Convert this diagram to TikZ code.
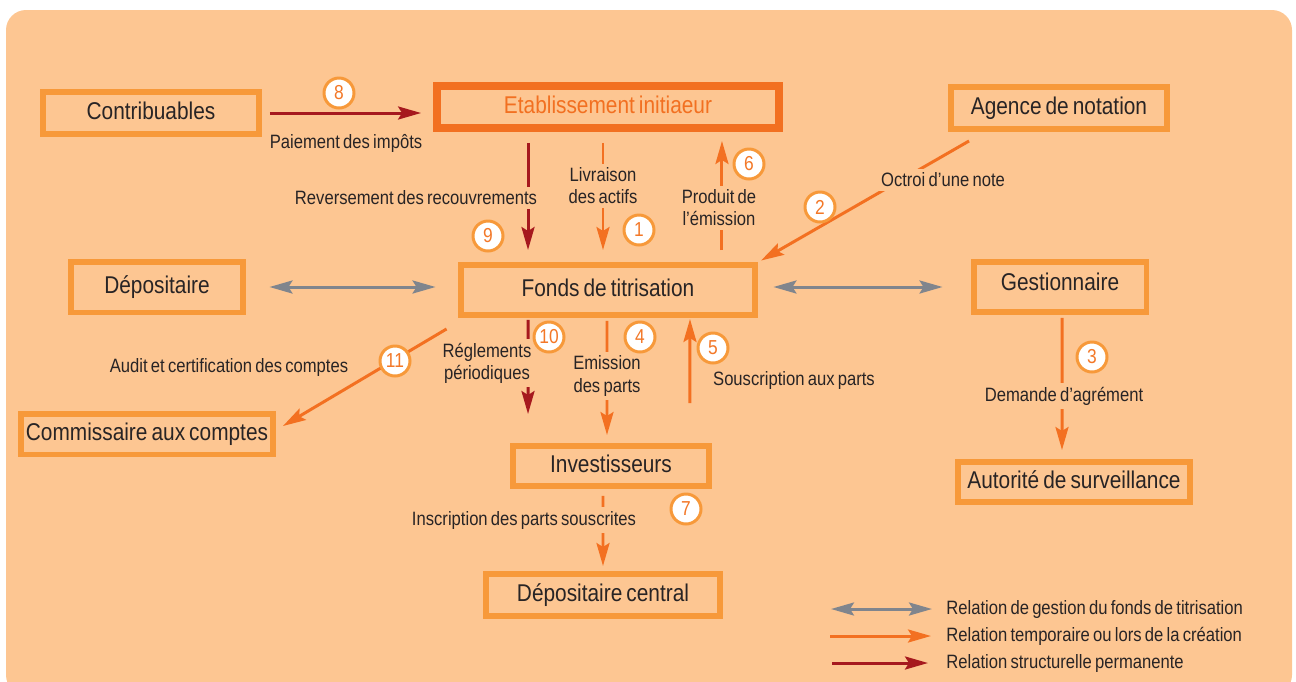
\documentclass[tikz,border=0pt]{standalone}
\usepackage{fontspec}
\setmainfont{Liberation Sans}[FakeStretch=0.86, WordSpace=0.7]
\usetikzlibrary{positioning, arrows.meta, calc}

\definecolor{bgor}{RGB}{253,198,146}
\definecolor{boxor}{RGB}{247,153,58}
\definecolor{etabor}{RGB}{242,112,33}
\definecolor{arrowor}{RGB}{243,112,33}
\definecolor{numor}{RGB}{243,120,40}
\definecolor{permred}{RGB}{166,25,30}
\definecolor{gestgrey}{RGB}{128,133,141}
\definecolor{txt}{RGB}{40,36,37}

\tikzset{
  entity/.style={draw=boxor, line width=3.4pt, text=txt, inner sep=0pt,
    font=\fontsize{13.8}{16}\selectfont, text height=10pt, text depth=3pt},
  labl/.style={text=txt, font=\fontsize{11}{12.6}\selectfont, align=center,
    fill=bgor, inner sep=0.08cm},
  legl/.style={text=txt, font=\fontsize{11}{12.6}\selectfont, anchor=west, inner sep=0pt},
  numc/.style={circle, draw=boxor, fill=white, line width=1.7pt, minimum size=0.6cm,
    inner sep=0pt, text=numor, font=\fontsize{11.5}{12}\selectfont},
  gestarrow/.style={draw=gestgrey, line width=1.7pt, <->},
  temparrow/.style={draw=arrowor, line width=1.7pt, ->},
  permarrow/.style={draw=permred, line width=1.7pt, ->}
}

\begin{document}
\begin{tikzpicture}[x=0.02cm, y=-0.02cm,
    >={Stealth[length=0.46cm, width=0.26cm, inset=0.08cm]}]

        \useasboundingbox (0,0) rectangle (1296,681);
        \fill[bgor, rounded corners=0.4cm] (6,10) rectangle (1292,695);

        % Nodes
        \node[entity, minimum width=4.32cm, minimum height=0.84cm] (contrib) at (151,113) {Contribuables};
        \node[entity, draw=etabor, line width=4.5pt, text=etabor, minimum width=6.84cm, minimum height=0.84cm] (etab) at (608,107) {Etablissement initiaeur};
        \node[entity, minimum width=4.32cm, minimum height=0.84cm] (agence) at (1059,108) {Agence de notation};
        \node[entity, minimum width=3.46cm, minimum height=1.02cm] (depos) at (157,287) {Dépositaire};
        \node[entity, minimum width=5.9cm, minimum height=1.0cm] (fonds) at (608,290) {Fonds de titrisation};
        \node[entity, minimum width=3.46cm, minimum height=1.0cm, text depth=6pt] (gest) at (1060,287) {Gestionnaire};
        \node[entity, minimum width=5.04cm, minimum height=0.82cm] (comm) at (147,434) {Commissaire aux comptes};
        \node[entity, minimum width=3.92cm, minimum height=0.8cm] (invest) at (611,466) {Investisseurs};
        \node[entity, minimum width=4.64cm, minimum height=0.8cm] (autorite) at (1074,482) {Autorité de surveillance};
        \node[entity, minimum width=4.68cm, minimum height=0.84cm] (depcentral) at (603,595) {Dépositaire central};

        % Edges
        \draw[permarrow, shorten <=0.16cm, shorten >=0.24cm] (contrib.east) -- (contrib.east -| etab.west);
        \draw[permarrow, shorten <=0.22cm, shorten >=0.24cm] ([xshift=-1.6cm]etab.south) -- ([xshift=-1.6cm]fonds.north);
        \draw[temparrow, shorten <=0.22cm, shorten >=0.24cm] ([xshift=-0.1cm]etab.south) -- ([xshift=-0.1cm]fonds.north);
        \draw[temparrow, shorten <=0.24cm, shorten >=0.18cm] ([xshift=2.28cm]fonds.north) -- ([xshift=2.28cm]etab.south);
        \draw[temparrow, shorten >=0.06cm] ($(agence.south west)+(21,9)$) -- (fonds.north east);
        \draw[gestarrow, shorten <=0.46cm, shorten >=0.44cm] (depos.east) -- (depos.east -| fonds.west);
        \draw[gestarrow, shorten <=0.3cm, shorten >=0.56cm] (fonds.east |- gest.west) -- (gest.west);
        \draw[temparrow] ($(fonds.south west)+(-11,11)$) -- ($(comm.east)+(7,-8)$);
        \draw[permarrow, shorten <=0.04cm, shorten >=0.58cm] ([xshift=-1.6cm]fonds.south) -- ([xshift=-1.66cm]invest.north);
        \draw[temparrow, shorten <=0.06cm, shorten >=0.16cm] ([xshift=-0.02cm]fonds.south) -- ([xshift=-0.08cm]invest.north);
        \draw[temparrow, shorten <=0.8cm, shorten >=0.02cm] ([xshift=1.58cm]invest.north) -- ([xshift=1.64cm]fonds.south);
        \draw[temparrow, shorten <=0.06cm, shorten >=0.18cm] ([xshift=0.04cm]gest.south) -- ([xshift=-0.24cm]autorite.north);
        \draw[temparrow, shorten <=0.14cm, shorten >=0.1cm] ([xshift=-0.16cm]invest.south) -- (depcentral.north);

        % Edge labels
        \node[labl] (lpaie) at (346,143) {Paiement des impôts};
        \node[labl] (lrev) at (416,198) {Reversement des recouvrements};
        \node[labl] (lliv) at (603,186) {Livraison\\des actifs};
        \node[labl] (lprod) at (719,208) {Produit de\\l’émission};
        \node[labl] (loctroi) at (943,180) {Octroi d’une note};
        \node[labl] (laudit) at (229,367) {Audit et certification des comptes};
        \node[labl] (lregl) at (487,363) {Réglements\\périodiques};
        \node[labl] (lemis) at (607,376) {Emission\\des parts};
        \node[labl] (lsousc) at (794,380) {Souscription aux parts};
        \node[labl] (ldem) at (1064,396) {Demande d’agrément};
        \node[labl] (linscr) at (524,520) {Inscription des parts souscrites};

        % Steps
        \node[numc] (n1) at (639,230) {1};
        \node[numc] (n2) at (820,207) {2};
        \node[numc] (n3) at (1092,357) {3};
        \node[numc] (n4) at (640,337) {4};
        \node[numc] (n5) at (713,348) {5};
        \node[numc] (n6) at (749,164) {6};
        \node[numc] (n7) at (686,509) {7};
        \node[numc] (n8) at (339,93) {8};
        \node[numc] (n9) at (488,236) {9};
        \node[numc] (n10) at (549,337) {10};
        \node[numc] (n11) at (395,361) {11};

        % Legend
        \node[legl] (lg1) at (946,609) {Relation de gestion du fonds de titrisation};
        \node[legl] (lg2) at (946,636) {Relation temporaire ou lors de la création};
        \node[legl] (lg3) at (946,663) {Relation structurelle permanente};
        \coordinate (lg1s) at (831,609);
        \coordinate (lg2s) at (830,636);
        \coordinate (lg3s) at (832,663);
        \draw[gestarrow, shorten >=0.28cm] (lg1s) -- (lg1.west);
        \draw[temparrow, shorten >=0.3cm] (lg2s) -- (lg2.west);
        \draw[permarrow, shorten >=0.36cm] (lg3s) -- (lg3.west);

\end{tikzpicture}
\end{document}
